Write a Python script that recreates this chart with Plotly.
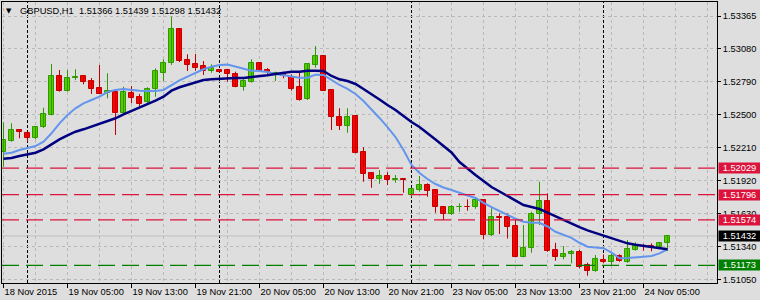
import plotly.graph_objects as go

# ---------------- data ----------------
opens = [
    1.52173, 1.52270, 1.52364, 1.52335, 1.52291, 1.52388, 1.52499, 1.52836, 1.52710, 1.52821,
    1.52836, 1.52795, 1.52733, 1.52687, 1.52696, 1.52516, 1.52687, 1.52652, 1.52608, 1.52727,
    1.52868, 1.52951, 1.53250, 1.52980, 1.52945, 1.52927, 1.52883, 1.52895, 1.52892, 1.52857,
    1.52745, 1.52789, 1.52956, 1.52892, 1.52857, 1.52857, 1.52833, 1.52740, 1.52634, 1.52936,
    1.53015, 1.52716, 1.52481, 1.52399, 1.52487, 1.52170, 1.51985, 1.51930, 1.51959, 1.51926,
    1.51933, 1.51795, 1.51839, 1.51877, 1.51836, 1.51684, 1.51627, 1.51686, 1.51689, 1.51684,
    1.51748, 1.51442, 1.51598, 1.51596, 1.51519, 1.51249, 1.51323, 1.51625, 1.51739, 1.51308,
    1.51244, 1.51270, 1.51290, 1.51173, 1.51126, 1.51220, 1.51205, 1.51255, 1.51205, 1.51308,
    1.51343, 1.51340, 1.51332, 1.51366]
highs = [
    1.52432, 1.52423, 1.52364, 1.52349, 1.52399, 1.52560, 1.52945, 1.52892, 1.52892, 1.52898,
    1.52836, 1.52821, 1.52936, 1.52863, 1.52701, 1.52745, 1.52751, 1.52681, 1.52740, 1.52907,
    1.52986, 1.53361, 1.53261, 1.53030, 1.53033, 1.52971, 1.52942, 1.52895, 1.52901, 1.52877,
    1.52810, 1.52986, 1.52962, 1.52909, 1.52877, 1.52877, 1.52854, 1.52868, 1.52942, 1.53103,
    1.53024, 1.52716, 1.52555, 1.52555, 1.52496, 1.52212, 1.51985, 1.52012, 1.51994, 1.51968,
    1.51933, 1.51856, 1.51959, 1.51895, 1.51842, 1.51684, 1.51704, 1.51719, 1.51754, 1.51763,
    1.51754, 1.51675, 1.51631, 1.51631, 1.51572, 1.51528, 1.51645, 1.51909, 1.51807, 1.51372,
    1.51343, 1.51308, 1.51308, 1.51196, 1.51264, 1.51270, 1.51279, 1.51270, 1.51396, 1.51376,
    1.51361, 1.51367, 1.51372, 1.51439]
lows = [
    1.52041, 1.52261, 1.52291, 1.52261, 1.52282, 1.52381, 1.52493, 1.52701, 1.52701, 1.52804,
    1.52766, 1.52681, 1.52681, 1.52643, 1.52320, 1.52511, 1.52599, 1.52569, 1.52584, 1.52657,
    1.52795, 1.52936, 1.52962, 1.52883, 1.52886, 1.52848, 1.52868, 1.52872, 1.52789, 1.52740,
    1.52710, 1.52780, 1.52874, 1.52857, 1.52795, 1.52819, 1.52710, 1.52622, 1.52628, 1.52912,
    1.52710, 1.52364, 1.52364, 1.52340, 1.52159, 1.51909, 1.51856, 1.51889, 1.51880, 1.51900,
    1.51812, 1.51777, 1.51821, 1.51777, 1.51636, 1.51572, 1.51616, 1.51645, 1.51654, 1.51671,
    1.51402, 1.51431, 1.51449, 1.51409, 1.51244, 1.51244, 1.51284, 1.51528, 1.51293, 1.51214,
    1.51226, 1.51191, 1.51147, 1.51082, 1.51117, 1.51191, 1.51176, 1.51205, 1.51196, 1.51302,
    1.51302, 1.51296, 1.51323, 1.51298]
closes = [
    1.52276, 1.52364, 1.52349, 1.52291, 1.52388, 1.52502, 1.52836, 1.52710, 1.52819, 1.52833,
    1.52789, 1.52727, 1.52683, 1.52704, 1.52516, 1.52696, 1.52648, 1.52595, 1.52727, 1.52883,
    1.52951, 1.53250, 1.52971, 1.52936, 1.52912, 1.52886, 1.52907, 1.52877, 1.52854, 1.52745,
    1.52795, 1.52951, 1.52883, 1.52874, 1.52865, 1.52839, 1.52727, 1.52628, 1.52942, 1.53015,
    1.52710, 1.52481, 1.52399, 1.52481, 1.52164, 1.51979, 1.51935, 1.51959, 1.51926, 1.51933,
    1.51921, 1.51842, 1.51877, 1.51830, 1.51689, 1.51627, 1.51684, 1.51689, 1.51684, 1.51748,
    1.51442, 1.51596, 1.51592, 1.51513, 1.51249, 1.51323, 1.51625, 1.51739, 1.51302, 1.51244,
    1.51273, 1.51290, 1.51161, 1.51126, 1.51229, 1.51205, 1.51255, 1.51208, 1.51314, 1.51343,
    1.51340, 1.51334, 1.51367, 1.51432]
ma_fast = [
    1.52155, 1.52164, 1.52188, 1.52203, 1.52223, 1.52261, 1.52335, 1.52423, 1.52496, 1.52555,
    1.52599, 1.52628, 1.52657, 1.52698, 1.52716, 1.52725, 1.52716, 1.52710, 1.52707, 1.52707,
    1.52716, 1.52760, 1.52800, 1.52833, 1.52868, 1.52898, 1.52921, 1.52936, 1.52939, 1.52921,
    1.52907, 1.52886, 1.52883, 1.52874, 1.52857, 1.52845, 1.52837, 1.52824, 1.52824, 1.52851,
    1.52848, 1.52804, 1.52760, 1.52725, 1.52681, 1.52619, 1.52549, 1.52470, 1.52390, 1.52302,
    1.52188, 1.52056, 1.51986, 1.51933, 1.51889, 1.51858, 1.51836, 1.51810, 1.51788, 1.51766,
    1.51722, 1.51686, 1.51651, 1.51616, 1.51583, 1.51557, 1.51548, 1.51548, 1.51515, 1.51469,
    1.51444, 1.51415, 1.51372, 1.51337, 1.51330, 1.51324, 1.51286, 1.51235, 1.51238, 1.51246,
    1.51249, 1.51255, 1.51279, 1.51315]
ma_slow = [
    1.52111, 1.52118, 1.52135, 1.52150, 1.52164, 1.52194, 1.52241, 1.52282, 1.52317, 1.52349,
    1.52370, 1.52393, 1.52417, 1.52441, 1.52467, 1.52502, 1.52531, 1.52564, 1.52593, 1.52622,
    1.52657, 1.52710, 1.52740, 1.52760, 1.52786, 1.52804, 1.52810, 1.52815, 1.52819, 1.52822,
    1.52822, 1.52828, 1.52837, 1.52845, 1.52857, 1.52868, 1.52877, 1.52877, 1.52886, 1.52886,
    1.52883, 1.52839, 1.52810, 1.52795, 1.52769, 1.52725, 1.52681, 1.52632, 1.52584, 1.52540,
    1.52487, 1.52434, 1.52390, 1.52338, 1.52280, 1.52223, 1.52166, 1.52082, 1.52021, 1.51968,
    1.51915, 1.51862, 1.51823, 1.51783, 1.51739, 1.51704, 1.51686, 1.51669, 1.51638, 1.51605,
    1.51572, 1.51543, 1.51510, 1.51481, 1.51458, 1.51436, 1.51412, 1.51393, 1.51367, 1.51355,
    1.51345, 1.51332, 1.51324, 1.51315]

tick_idx = [0, 8, 16, 24, 32, 40, 48, 56, 64, 72, 80]
tick_labels = ["18 Nov 2015", "19 Nov 05:00", "19 Nov 13:00", "19 Nov 21:00",
               "20 Nov 05:00", "20 Nov 13:00", "20 Nov 21:00", "23 Nov 05:00",
               "23 Nov 13:00", "23 Nov 21:00", "24 Nov 05:00"]
day_separators = [3, 27, 51, 75]
y_ticks = [1.53365, 1.53080, 1.52790, 1.52500, 1.52210, 1.51920, 1.51630, 1.51340, 1.51050]
red_levels = [1.52029, 1.51796, 1.51574]
green_levels = [1.51173]
bid_level = 1.51432
title_text = "GBPUSD,H1  1.51366 1.51439 1.51298 1.51432"

# ---------------- styles ----------------
BG = "#DEDEDE"
GRID = "#B9B9B9"
FONT = "Liberation Sans"
FS = 9.3
UP_FILL, UP_LINE = "#55CC00", "#2F9A00"
DN_FILL, DN_LINE = "#FF0000", "#C00000"

n = len(opens)
idx = list(range(n))
up = [i for i in idx if closes[i] >= opens[i]]
dn = [i for i in idx if closes[i] < opens[i]]


def wick_xy(ids):
    xs, ys = [], []
    for i in ids:
        xs += [i, i, None]
        ys += [lows[i], highs[i], None]
    return xs, ys


fig = go.Figure()
for ids, col in ((up, UP_LINE), (dn, DN_LINE)):
    wx, wy = wick_xy(ids)
    fig.add_trace(go.Scatter(x=wx, y=wy, mode="lines", line=dict(color=col, width=1),
                             hoverinfo="skip"))
for ids, fill, line in ((up, UP_FILL, UP_LINE), (dn, DN_FILL, DN_LINE)):
    fig.add_trace(go.Bar(
        x=ids,
        base=[min(opens[i], closes[i]) for i in ids],
        y=[abs(closes[i] - opens[i]) for i in ids],
        width=0.6,
        marker=dict(color=fill, line=dict(color=line, width=1)),
    ))
fig.add_trace(go.Scatter(x=idx, y=ma_fast, mode="lines",
                         line=dict(color="#6495ED", width=2)))
fig.add_trace(go.Scatter(x=idx, y=ma_slow, mode="lines",
                         line=dict(color="#000080", width=2.5)))

shapes = []
for s in day_separators:
    shapes.append(dict(type="line", xref="x", yref="paper", x0=s, x1=s, y0=0, y1=1,
                       line=dict(color="black", width=1, dash="3px,2px"), layer="below"))
for lv in red_levels:
    shapes.append(dict(type="line", xref="paper", yref="y", x0=0, x1=1, y0=lv, y1=lv,
                       line=dict(color="#DC143C", width=1.2, dash="17px,7px"), layer="above"))
for lv in green_levels:
    shapes.append(dict(type="line", xref="paper", yref="y", x0=0, x1=1, y0=lv, y1=lv,
                       line=dict(color="#008000", width=1.2, dash="17px,7px"), layer="above"))
shapes.append(dict(type="line", xref="paper", yref="y", x0=0, x1=1, y0=bid_level, y1=bid_level,
                   line=dict(color="#C0C0C0", width=1), layer="below"))

annotations = []
for lv, bg in [(v, "#DC143C") for v in red_levels] + [(bid_level, "#000000")] + \
        [(v, "#008000") for v in green_levels]:
    annotations.append(dict(x=1, xref="paper", y=lv, yref="y", xanchor="left", yanchor="middle",
                            xshift=1, text=f"{lv:.5f}", showarrow=False, bgcolor=bg,
                            font=dict(family=FONT, size=FS, color="white"),
                            width=41, height=10, borderpad=0, align="center"))
annotations.append(dict(x=0, xref="paper", y=1, yref="paper", xanchor="left", yanchor="middle",
                        xshift=16, yshift=-8.7, text=title_text, showarrow=False,
                        font=dict(family=FONT, size=FS, color="black")))
annotations.append(dict(x=0, xref="paper", y=1, yref="paper", xanchor="center", yanchor="middle",
                        xshift=7, yshift=-8.5, text="▼", showarrow=False,
                        font=dict(family="DejaVu Sans", size=7, color="black")))

fig.update_layout(
    width=760, height=300, margin=dict(l=2, r=43, t=2, b=17, autoexpand=False),
    paper_bgcolor=BG, plot_bgcolor=BG, showlegend=False,
    barmode="overlay", bargap=0,
    shapes=shapes, annotations=annotations,
    xaxis=dict(range=[-0.1875, 89.1875], tickmode="array", tickvals=tick_idx, ticktext=tick_labels,
               ticks="outside", ticklen=4, tickcolor="black", ticklabelposition="outside right",
               tickangle=0, automargin=False,
               showgrid=True, gridcolor=GRID, griddash="3px,3px", gridwidth=1,
               minor=dict(tick0=0, dtick=4, showgrid=True, gridcolor=GRID, griddash="3px,3px",
                          ticks=""),
               showline=True, linecolor="black", linewidth=1, mirror=True, zeroline=False,
               tickfont=dict(family=FONT, size=FS, color="black"), fixedrange=True),
    yaxis=dict(range=[1.51018, 1.53490], side="right", tickmode="array", tickvals=y_ticks,
               ticktext=[f"{v:.5f}" for v in y_ticks], automargin=False,
               ticks="outside", ticklen=3, tickcolor="black",
               showgrid=True, gridcolor=GRID, griddash="3px,3px", gridwidth=1,
               showline=True, linecolor="black", linewidth=1, mirror=True, zeroline=False,
               tickfont=dict(family=FONT, size=FS, color="black"), fixedrange=True),
)

fig.write_html("out.html")
